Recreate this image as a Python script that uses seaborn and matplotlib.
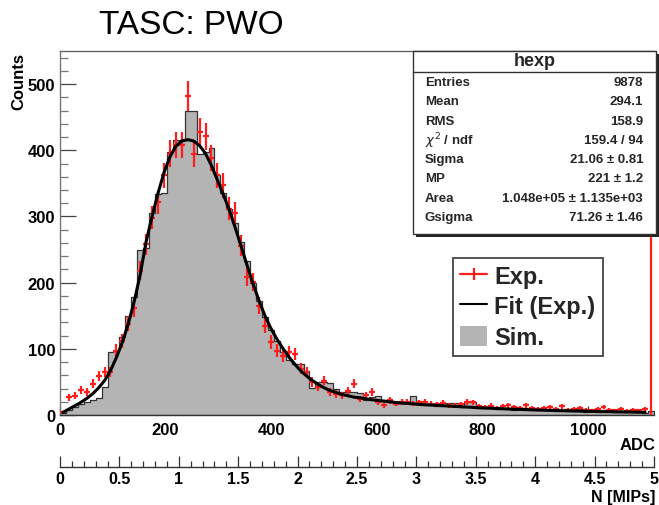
import numpy as np
import pandas as pd
import matplotlib
matplotlib.use("Agg")
import matplotlib.pyplot as plt
import seaborn as sns
from matplotlib.patches import Rectangle, Patch
from matplotlib.lines import Line2D
from matplotlib.ticker import MultipleLocator, FixedLocator, FixedFormatter

# ---------------- data ----------------
bin_width = 11.25
n_bins = 100
adc_range = (0, 1125)
count_range = (0, 550)

sim_counts = [3, 8, 12, 17, 20, 22, 25, 42, 95, 96,
              118, 150, 178, 250, 252, 305, 334, 335, 398, 415,
              415, 459, 459, 395, 398, 403, 362, 335, 312, 290,
              262, 232, 200, 172, 148, 128, 112, 95, 83, 77,
              77, 67, 41, 50, 50, 49, 39, 34, 34, 34,
              33, 22, 27, 28, 22, 20, 19, 18, 20, 29,
              16, 15, 17, 14, 15, 18, 18, 12, 20, 20,
              11, 10, 12, 9, 11, 10, 8, 9, 10, 7,
              8, 9, 7, 6, 8, 7, 6, 9, 5, 6,
              5, 7, 6, 4, 5, 4, 5, 4, 3, 6]

exp_counts = [4, 27, 29, 38, 35, 47, 59, 65, 65, 97,
              112, 138, 161, 218, 258, 298, 322, 362, 395, 408,
              408, 482, 395, 428, 421, 388, 362, 347, 312, 305,
              256, 209, 201, 165, 135, 110, 97, 89, 95, 92,
              70, 65, 50, 42, 52, 35, 32, 30, 36, 47,
              24, 30, 35, 20, 15, 22, 17, 20, 20, 17,
              19, 20, 17, 16, 18, 15, 14, 16, 20, 19,
              13, 12, 14, 11, 13, 15, 12, 10, 15, 11,
              9, 10, 12, 9, 13, 8, 9, 10, 8, 7,
              9, 12, 8, 7, 9, 6, 8, 7, 9, 2000]

fit_counts = [4, 9, 14, 19, 25, 32, 41, 52, 67, 87,
              110, 138, 172, 212, 262, 300, 335, 366, 390, 406,
              414, 416, 414, 407, 395, 377, 355, 333, 310, 283,
              255, 226, 198, 173, 150, 131, 115, 101, 88, 77,
              67, 59, 52, 46, 41, 37, 34, 31, 29, 27,
              26, 24.5, 23, 22, 21, 20, 19, 18, 17.5, 16.8,
              16, 15.5, 15, 14.5, 14, 13.5, 13, 12.5, 12, 11.5,
              11, 10.6, 10.2, 9.8, 9.4, 9, 8.7, 8.4, 8.1, 7.8,
              7.5, 7.2, 7, 6.7, 6.5, 6.3, 6.1, 5.9, 5.7, 5.5,
              5.3, 5.1, 5, 4.8, 4.7, 4.5, 4.4, 4.2, 4.1]

mip_range = (0, 5)
mip_ticks = [0, 0.5, 1, 1.5, 2, 2.5, 3, 3.5, 4, 4.5, 5]
mip_labels = ["0", "0.5", "1", "1.5", "2", "2.5", "3", "3.5", "4", "4.5", "5"]

stats_title = "hexp"
stats_names = ["Entries", "Mean", "RMS", r"$\chi^{2}$ / ndf", "Sigma", "MP", "Area", "Gsigma"]
stats_values = ["9878", "294.1", "158.9", "159.4 / 94", "21.06 \u00b1 0.81",
                "221 \u00b1 1.2", "1.048e+05 \u00b1 1.135e+03", "71.26 \u00b1 1.46"]
legend_labels = ["Exp.", "Fit (Exp.)", "Sim."]

# ---------------- style ----------------
sns.set_theme(style="white")
plt.rcParams['font.family'] = ['Liberation Sans', 'DejaVu Sans']
plt.rcParams['mathtext.fontset'] = 'dejavusans'

W, H = 659, 506
fig = plt.figure(figsize=(W / 100, H / 100), dpi=100)

def fx(px):
    return px / W

def fy(py):
    return 1 - py / H

ax = fig.add_axes([fx(60), fy(416), fx(654) - fx(60), fy(52) - fy(416)])

edges = np.arange(n_bins + 1) * bin_width
centers = edges[:-1] + bin_width / 2

df_sim = pd.DataFrame({"adc": centers, "counts": sim_counts})
sns.histplot(data=df_sim, x="adc", weights="counts", bins=n_bins, binrange=adc_range,
             element="step", fill=True, color="#b4b4b4", edgecolor="#333333",
             linewidth=0.9, alpha=1, ax=ax, zorder=2)

exp = np.array(exp_counts, dtype=float)
inside = exp < count_range[1]
ax.errorbar(centers[inside], exp[inside], xerr=bin_width / 2, yerr=np.sqrt(exp[inside]),
            fmt="none", ecolor="#ff1e1e", elinewidth=1.6, capsize=0, zorder=3)
ax.vlines(centers[~inside], 0, exp[~inside], color="#ff1e1e", lw=1.6, zorder=3)

df_fit = pd.DataFrame({"adc": centers[:len(fit_counts)], "fit": fit_counts})
sns.lineplot(data=df_fit, x="adc", y="fit", color="black", lw=2.2, ax=ax, zorder=4)

ax.set_xlim(*adc_range)
ax.set_ylim(*count_range)
ax.set_xlabel("")
ax.set_ylabel("")
ax.xaxis.set_major_locator(MultipleLocator(200))
ax.xaxis.set_minor_locator(MultipleLocator(50))
ax.yaxis.set_major_locator(MultipleLocator(100))
ax.yaxis.set_minor_locator(MultipleLocator(20))
ax.tick_params(axis="both", which="both", direction="in", bottom=True, left=True,
               top=False, right=False)
ax.tick_params(axis="y", which="major", length=11.5, width=0.9, color="#444444", pad=3.5)
ax.tick_params(axis="y", which="minor", length=5.8, width=0.9, color="#777777")
ax.tick_params(axis="x", which="major", length=6.5, width=0.9, color="#333333", pad=5)
ax.tick_params(axis="x", which="minor", length=3.6, width=0.9, color="#333333")
ax.tick_params(labelsize=12, labelcolor="black")
for lab in ax.get_xticklabels() + ax.get_yticklabels():
    lab.set_fontweight("bold")
for s in ["top", "left", "bottom"]:
    ax.spines[s].set_visible(True)
    ax.spines[s].set_linewidth(1.0)
ax.spines["top"].set_color("#666666")
ax.spines["left"].set_color("#777777")
ax.spines["bottom"].set_color("#333333")
ax.spines["right"].set_visible(False)

# secondary (MIPs) axis
ax2 = fig.add_axes([fx(60), fy(468), fx(654) - fx(60), 0.0001])
ax2.set_xlim(*mip_range)
ax2.xaxis.set_major_locator(FixedLocator(mip_ticks))
ax2.xaxis.set_major_formatter(FixedFormatter(mip_labels))
ax2.xaxis.set_minor_locator(MultipleLocator(0.1))
ax2.set_yticks([])
ax2.patch.set_alpha(0)
for s in ["top", "left", "right"]:
    ax2.spines[s].set_visible(False)
ax2.spines["bottom"].set_color("#333333")
ax2.spines["bottom"].set_linewidth(1.0)
ax2.tick_params(axis="x", which="both", direction="in", bottom=True, top=False)
ax2.tick_params(axis="x", which="major", length=8, width=0.9, color="#333333", pad=3,
                labelsize=11.5, labelcolor="black")
ax2.tick_params(axis="x", which="minor", length=4.5, width=0.9, color="#333333")
for lab in ax2.get_xticklabels():
    lab.set_fontweight("bold")

# texts
fig.text(fx(191), fy(25), "TASC: PWO", ha="center", va="center", fontsize=24, color="black")
fig.text(fx(19), fy(53), "Counts", rotation=90, ha="center", va="top", fontsize=12,
         fontweight="bold", color="black")
fig.text(fx(655), fy(446), "ADC", ha="right", va="center", fontsize=12,
         fontweight="bold", color="black")
fig.text(fx(655), fy(498), "N [MIPs]", ha="right", va="center", fontsize=11.5,
         fontweight="bold", color="black")

# stats box
fig.add_artist(Rectangle((fx(416), fy(238)), fx(656) - fx(413), fy(52) - fy(235),
                         transform=fig.transFigure, facecolor="#222222",
                         edgecolor="none", zorder=5))
fig.add_artist(Rectangle((fx(413), fy(235)), fx(656) - fx(413), fy(52) - fy(235),
                         transform=fig.transFigure, facecolor="white",
                         edgecolor="#333333", lw=1.0, zorder=6))
fig.add_artist(Line2D([fx(413), fx(656)], [fy(73), fy(73)], transform=fig.transFigure,
                      color="#333333", lw=1.0, zorder=7))
fig.text(fx(535), fy(62), stats_title, ha="center", va="center", fontsize=13,
         fontweight="bold", zorder=8)
for i, (nm, val) in enumerate(zip(stats_names, stats_values)):
    yy = 83 + i * 19.3
    fig.text(fx(425), fy(yy), nm, ha="left", va="center", fontsize=9.5,
             fontweight="bold", zorder=8)
    fig.text(fx(643), fy(yy), val, ha="right", va="center", fontsize=9.5,
             fontweight="bold", zorder=8)

# legend
handles = [Line2D([], [], color="#ff1e1e", lw=1.6, marker="|", markersize=9,
                  markeredgewidth=1.6),
           Line2D([], [], color="black", lw=1.5),
           Patch(facecolor="#b4b4b4", edgecolor="none")]
leg = ax.legend(handles, legend_labels, loc="upper left",
                bbox_to_anchor=(fx(453), fy(259)), bbox_transform=fig.transFigure,
                prop={"weight": "bold", "size": 17}, frameon=True, fancybox=False,
                edgecolor="#444444", framealpha=1, handlelength=1.15,
                handleheight=0.93, handletextpad=0.3, labelspacing=0.3,
                borderpad=0.3, borderaxespad=0)
leg.get_frame().set_linewidth(1.3)
leg.set_zorder(9)

fig.savefig("out.png", dpi=100)
